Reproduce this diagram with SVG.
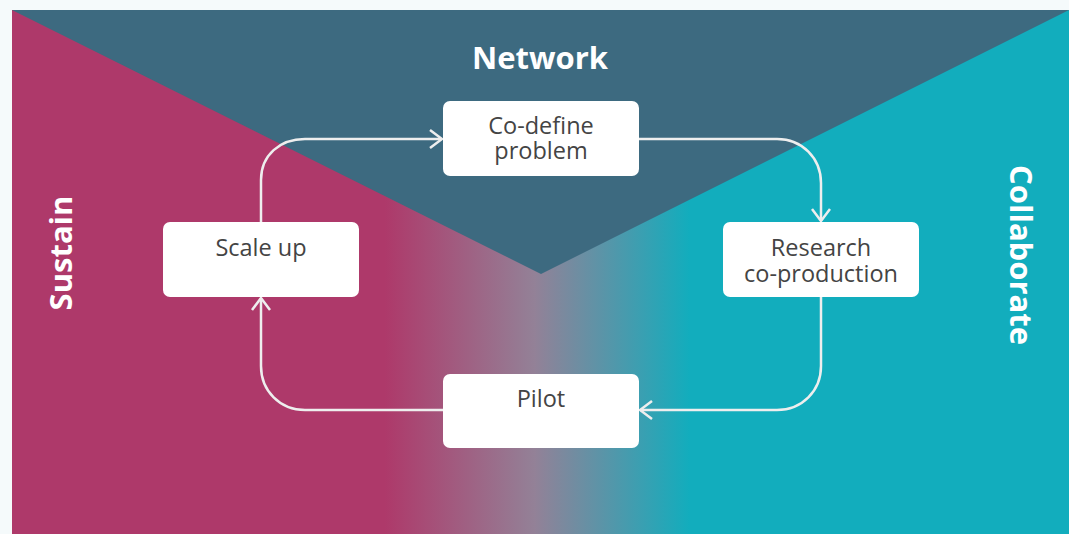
<svg xmlns="http://www.w3.org/2000/svg" width="1069" height="534" viewBox="0 0 1069 534">
<defs>
<linearGradient id="bg" x1="0" y1="0" x2="1069" y2="0" gradientUnits="userSpaceOnUse">
<stop offset="0" stop-color="#ae396a"/>
<stop offset="0.36" stop-color="#ae396a"/>
<stop offset="0.5" stop-color="#938197"/>
<stop offset="0.645" stop-color="#12adbd"/>
<stop offset="1" stop-color="#12adbd"/>
</linearGradient>
<marker id="arr" viewBox="0 0 14 20" refX="13" refY="10" markerWidth="14" markerHeight="20" markerUnits="userSpaceOnUse" orient="auto">
<path d="M1,1 L13,10 L1,19" fill="none" stroke="#eeeeee" stroke-width="2.5"/>
</marker>
<style>
.box{fill:#ffffff}
.lbl{font-family:"Open Sans","Liberation Sans",sans-serif;font-size:23.5px;fill:#444444;text-anchor:middle}
.ttl{font-family:"Open Sans","Liberation Sans",sans-serif;font-size:31px;font-weight:bold;fill:#ffffff;text-anchor:middle}
.con{fill:none;stroke:#eeeeee;stroke-width:2.5}
</style>
</defs>
<rect x="0" y="0" width="1069" height="534" fill="#f5fafb"/>
<rect x="12" y="10" width="1057" height="524" fill="url(#bg)"/>
<polygon points="12,10 1069,10 541,274" fill="#3d6a80"/>
<text class="ttl" x="540" y="69">Network</text>
<text class="ttl" transform="translate(72,253) rotate(-90)">Sustain</text>
<text class="ttl" transform="translate(1010,255) rotate(90)">Collaborate</text>
<g id="connectors">
<path class="con" d="M261,222 L261,180 C261,155 280,139 305,139 L442,139" marker-end="url(#arr)"/>
<path class="con" d="M639,139 L777,139 C802,139 821,158 821,183 L821,221" marker-end="url(#arr)"/>
<path class="con" d="M821,297 L821,366 C821,391 802,410 777,410 L640,410" marker-end="url(#arr)"/>
<path class="con" d="M443,410 L305,410 C280,410 261,391 261,366 L261,298" marker-end="url(#arr)"/>
</g>
<g id="node-codefine">
<rect class="box" x="443" y="101" width="196" height="75" rx="7"/>
<text class="lbl" x="541" y="134">Co-define</text>
<text class="lbl" x="541" y="159">problem</text>
</g>
<g id="node-research">
<rect class="box" x="723" y="222" width="196" height="75" rx="7"/>
<text class="lbl" x="821" y="256">Research</text>
<text class="lbl" x="821" y="282">co-production</text>
</g>
<g id="node-pilot">
<rect class="box" x="443" y="374" width="196" height="74" rx="7"/>
<text class="lbl" x="541" y="407">Pilot</text>
</g>
<g id="node-scaleup">
<rect class="box" x="163" y="222" width="196" height="75" rx="7"/>
<text class="lbl" x="261" y="256">Scale up</text>
</g>
</svg>
